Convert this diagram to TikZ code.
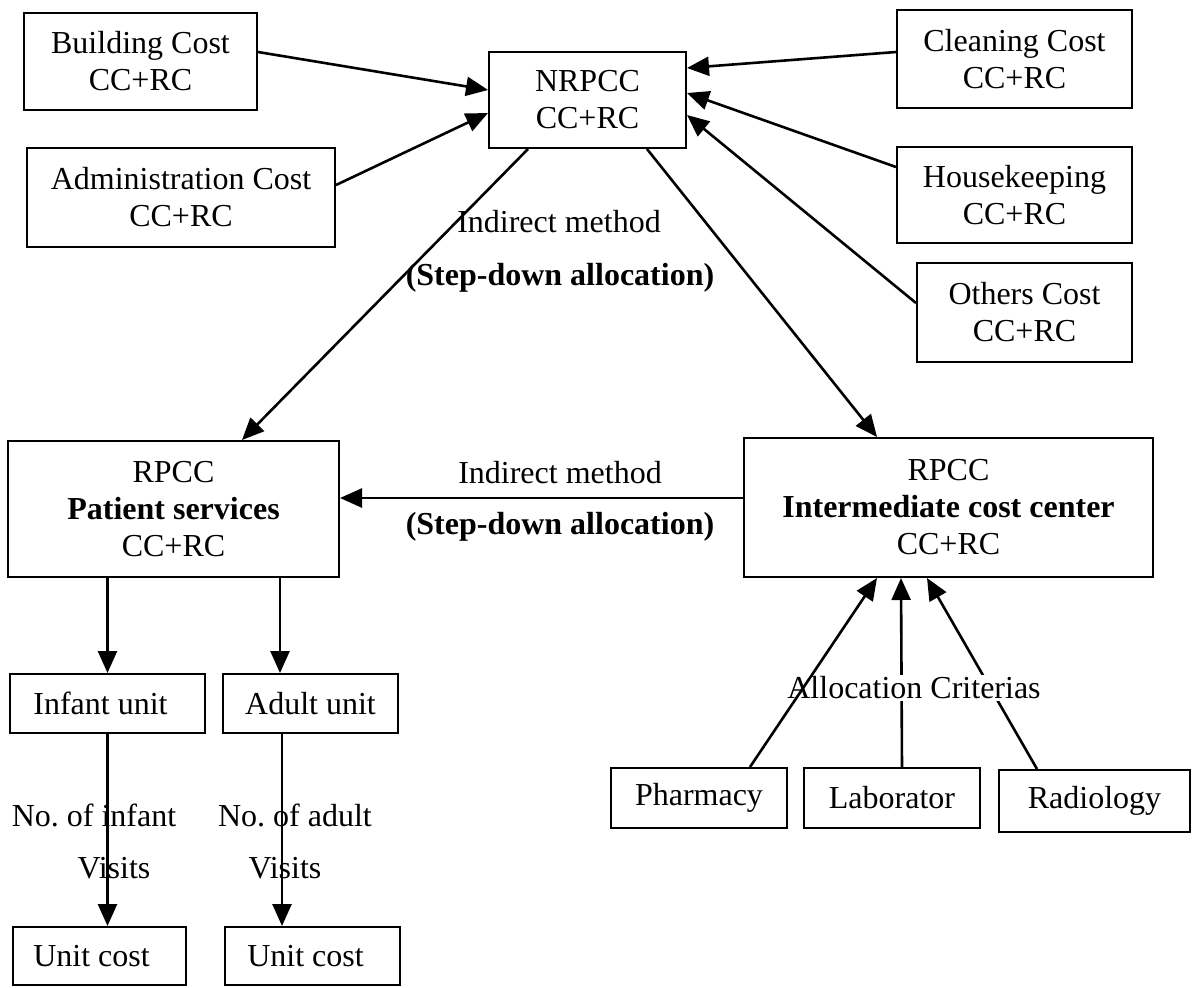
\documentclass[tikz,border=0pt]{standalone}
\usepackage{fontspec}
\setmainfont{Liberation Serif}
\usetikzlibrary{arrows.meta,calc}
\begin{document}
\begin{tikzpicture}[x=0.5pt,y=-0.5pt,
  box/.style={draw,line width=1pt,align=center,inner sep=0pt,font=\fontsize{16}{18.5}\selectfont},
  lbl/.style={inner sep=0pt,font=\fontsize{16}{18.5}\selectfont},
  arr/.style={line width=1.3pt,-{Triangle[length=11pt,width=9.5pt]}}]
\useasboundingbox (0,0) rectangle (1201,987);
% boxes
\node[box,minimum width=116.5pt,minimum height=48.5pt] (build) at (140.5,61.5) {Building Cost\\CC+RC};
\node[box,minimum width=154pt,minimum height=49.5pt] (admin) at (181,197.5) {Administration Cost\\CC+RC};
\node[box,minimum width=98.5pt,minimum height=48pt] (nrpcc) at (587.5,100) {NRPCC\\CC+RC};
\node[box,minimum width=117.5pt,minimum height=49pt] (clean) at (1014.5,59) {Cleaning Cost\\CC+RC};
\node[box,minimum width=117.5pt,minimum height=48pt] (house) at (1014.5,195) {Housekeeping\\CC+RC};
\node[box,minimum width=107.5pt,minimum height=49.5pt] (others) at (1024.5,312.5) {Others Cost\\CC+RC};
\node[box,minimum width=165.5pt,minimum height=68pt] (patient) at (173.5,509) {RPCC\\\textbf{Patient services}\\CC+RC};
\node[box,minimum width=204.5pt,minimum height=69.5pt] (inter) at (948.5,507.5) {RPCC\\\textbf{Intermediate cost center}\\CC+RC};
\node[box,minimum width=97.5pt,minimum height=29.5pt] (infant) at (107.5,703.5) {Infant unit\hspace*{7pt}};
\node[box,minimum width=87.5pt,minimum height=29.5pt] (adult) at (310.5,703.5) {Adult unit};
\node[box,minimum width=86.5pt,minimum height=29pt] (uc1) at (99.5,956) {Unit cost\hspace*{8pt}};
\node[box,minimum width=87.5pt,minimum height=29pt] (uc2) at (312.5,956) {Unit cost\hspace*{7pt}};
\node[box,minimum width=88pt,minimum height=30pt] (pharm) at (699,798) {Pharmacy};
\node[box,minimum width=88pt,minimum height=30pt] (lab) at (892,798) {Laborator};
\node[box,minimum width=95.5pt,minimum height=31pt] (radio) at (1094.5,801) {Radiology};
% labels
\node[lbl] (im1) at (559,222) {Indirect method};
\node[lbl] (sd1) at (560,278) {\textbf{(Step-down allocation)}};
\node[lbl] (im2) at (560,473) {Indirect method};
\node[lbl] (sd2) at (560,527) {\textbf{(Step-down allocation)}};
\node[lbl] (no1) at (94,815) {No.\ of infant};
\node[lbl] (vi1) at (114,868) {Visits};
\node[lbl] (no2) at (295,815) {No.\ of adult};
\node[lbl] (vi2) at (285,868) {Visits};
% arrows into NRPCC
\draw[arr] ($(build.east)+(0,-9.5)$) -- ($(nrpcc.west)+(0,-10)$);
\draw[arr] ($(admin.east)+(0,-12.5)$) -- ($(nrpcc.west)+(0,13)$);
\draw[arr] ($(clean.west)+(0,-7)$) -- ($(nrpcc.east)+(0,-32)$);
\draw[arr] ($(house.west)+(0,-28)$) -- ($(nrpcc.east)+(0,-7)$);
\draw[arr] ($(others.west)+(0,-9.5)$) -- ($(nrpcc.east)+(0,15)$);
% NRPCC out
\draw[arr] ($(nrpcc.south)+(-59.5,0)$) -- ($(patient.north)+(68.5,0)$);
\draw[arr] ($(nrpcc.south)+(59.5,0)$) -- ($(inter.north)+(-71.5,0)$);
% intermediate to patient
\draw[arr] ($(inter.west)+(0,-9.5)$) -- ($(patient.east)+(0,-11)$);
% patient to units
\draw[arr] (patient.south -| infant.north) -- (infant.north);
\coordinate (an) at ($(adult.north)+(-30.5,0)$);
\draw[arr] (patient.south -| an) -- (an);
\draw[arr] (infant.south) -- (infant.south |- uc1.north);
\coordinate (as) at ($(adult.south)+(-28.5,0)$);
\draw[arr] (as) -- (as |- uc2.north);
% allocation
\draw[arr] ($(lab.north)+(10,0)$) -- ($(inter.south)+(-47.5,0)$);
\draw[arr] ($(radio.north)+(-57.5,0)$) -- ($(inter.south)+(-21.5,0)$);
\node[lbl,fill=white,inner sep=1pt] (crit) at (914,688) {Allocation Criterias};
\draw[arr] ($(pharm.north)+(51,0)$) -- ($(inter.south)+(-71.5,0)$);
\end{tikzpicture}
\end{document}
